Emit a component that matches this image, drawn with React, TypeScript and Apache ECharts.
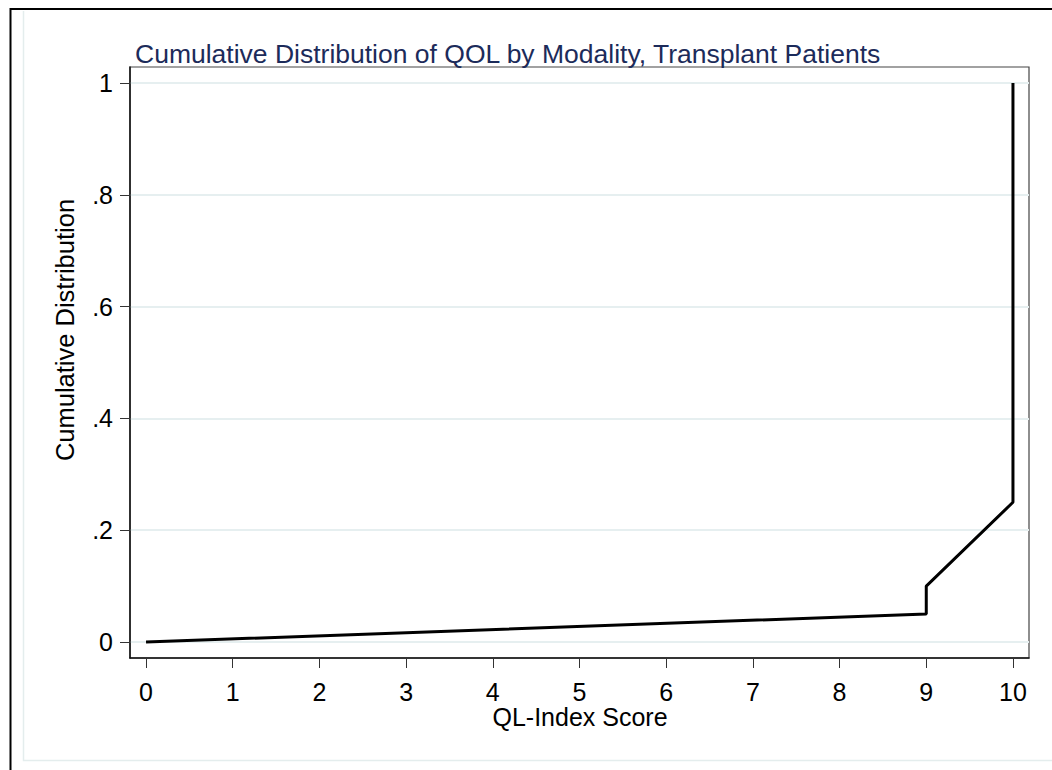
import React, { useEffect, useRef } from 'react';
import * as echarts from 'echarts';

const xValues = [0, 9, 9, 10, 10];
const yValues = [0, 0.05, 0.1, 0.25, 1];
const xTicks = [0, 1, 2, 3, 4, 5, 6, 7, 8, 9, 10];
const yTicks = [0, 0.2, 0.4, 0.6, 0.8, 1];
const yTickLabels = ['0', '.2', '.4', '.6', '.8', '1'];
const chartTitle = 'Cumulative Distribution of QOL by Modality, Transplant Patients';
const xTitle = 'QL-Index Score';
const yTitle = 'Cumulative Distribution';

const FONT = '"Liberation Sans", Arial, Helvetica, sans-serif';

export default function App() {
  const ref = useRef<HTMLDivElement>(null);
  useEffect(() => {
    if (!ref.current) return;
    const chart = echarts.init(ref.current, null, { renderer: 'svg' });
    const data = xValues.map((x, i) => [x, yValues[i]]);
    chart.setOption({
      animation: false,
      backgroundColor: '#ffffff',
      grid: {
        left: 130,
        top: 67,
        right: 23,
        bottom: 112,
        show: true,
        borderColor: '#444',
        borderWidth: 1.2,
        backgroundColor: 'transparent',
      },
      xAxis: {
        type: 'value',
        min: -0.185,
        max: 10.185,
        axisLine: { show: true, onZero: false, lineStyle: { color: '#111', width: 1.5 } },
        axisTick: { show: true, length: 10, customValues: xTicks, lineStyle: { color: '#333', width: 1 } },
        axisLabel: {
          customValues: xTicks,
          margin: 34,
          verticalAlign: 'middle',
          fontFamily: FONT,
          fontSize: 25,
          color: '#000',
        },
        splitLine: { show: false },
      },
      yAxis: {
        type: 'value',
        min: -0.0286,
        max: 1.0286,
        axisLine: { show: true, onZero: false, lineStyle: { color: '#111', width: 1.5 } },
        axisTick: { show: true, length: 10, customValues: yTicks, lineStyle: { color: '#333', width: 1 } },
        axisLabel: {
          customValues: yTicks,
          margin: 17,
          fontFamily: FONT,
          fontSize: 25,
          color: '#000',
          formatter: (v: number) => {
            const idx = yTicks.findIndex((t) => Math.abs(t - v) < 1e-6);
            return idx >= 0 ? yTickLabels[idx] : '';
          },
        },
        splitLine: { show: true, lineStyle: { color: '#e6eff0', width: 2 } },
      },
      graphic: [
        {
          type: 'polyline',
          shape: { points: [[10.5, 770], [10.5, 9], [1052, 9]] },
          style: { stroke: '#000', lineWidth: 2, fill: 'none' },
          silent: true,
        },
        {
          type: 'polyline',
          shape: { points: [[23.5, 11], [23.5, 760.5], [1052, 760.5]] },
          style: { stroke: '#e4eded', lineWidth: 1.5, fill: 'none' },
          silent: true,
        },
        {
          type: 'text',
          x: 135,
          y: 54,
          style: {
            text: chartTitle,
            fontFamily: FONT,
            fontSize: 26.5,
            fill: '#1c2b5a',
            align: 'left',
            verticalAlign: 'middle',
          },
          silent: true,
        },
        {
          type: 'text',
          x: 65,
          y: 330,
          rotation: Math.PI / 2,
          style: {
            text: yTitle,
            fontFamily: FONT,
            fontSize: 25.5,
            fill: '#000',
            align: 'center',
            verticalAlign: 'middle',
          },
          silent: true,
        },
        {
          type: 'text',
          x: 580,
          y: 717,
          style: {
            text: xTitle,
            fontFamily: FONT,
            fontSize: 25,
            fill: '#000',
            align: 'center',
            verticalAlign: 'middle',
          },
          silent: true,
        },
      ],
      series: [
        {
          type: 'line',
          data,
          showSymbol: false,
          symbol: 'none',
          lineStyle: { color: '#000', width: 3 },
          z: 5,
        },
      ],
    });
    return () => {
      chart.dispose();
    };
  }, []);
  return (
    <div style={{ position: 'fixed', left: 0, top: 0, width: 1052, height: 770 }}>
      <div ref={ref} style={{ width: 1052, height: 770 }} />
    </div>
  );
}
